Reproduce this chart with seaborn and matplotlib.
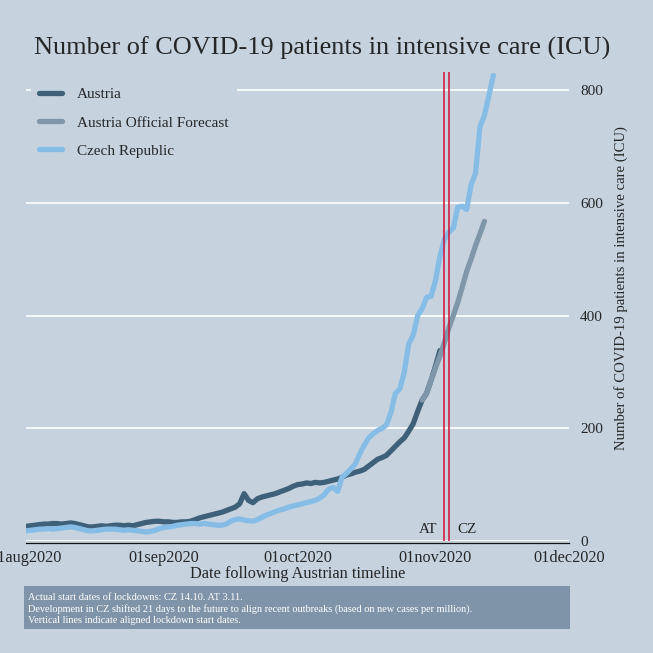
import pandas as pd
import numpy as np
import matplotlib.pyplot as plt
import matplotlib.dates as mdates
from matplotlib.patches import Rectangle
import seaborn as sns

# ICU patients, daily from 1 Aug 2020 (Austrian timeline)
at_icu = [26, 27, 28, 29, 30, 30, 31, 31, 30, 31, 32, 31, 29, 27, 25, 25, 26, 27, 26, 27,
          28, 28, 27, 28, 27, 29, 31, 33, 34, 35, 35, 34, 34, 33, 33, 34, 34, 35, 38, 41,
          43, 45, 47, 49, 51, 54, 57, 60, 66, 84, 72, 68, 75, 78, 80, 82, 84, 87, 90, 93,
          97, 100, 101, 103, 102, 104, 103, 104, 106, 108, 110, 113, 117, 119, 122, 124, 127, 133, 139, 145,
          148, 152, 160, 168, 176, 183, 195, 208, 230, 250, 262, 285, 310, 338]
# official forecast, starts 29 Oct 2020
fc_start = '2020-10-29'
at_forecast = [250, 262, 285, 307, 328, 352, 378, 400, 423, 450, 478, 500, 524, 545, 567]
# Czech Republic, shifted 21 days forward
cz_icu = [18, 19, 20, 21, 21, 22, 21, 22, 23, 24, 25, 24, 22, 20, 18, 18, 19, 20, 21, 21,
          21, 20, 19, 20, 19, 18, 17, 16, 17, 19, 22, 24, 25, 26, 28, 29, 30, 31, 31, 30,
          31, 30, 29, 28, 28, 30, 35, 38, 39, 37, 36, 35, 38, 42, 46, 49, 52, 55, 57, 60,
          62, 64, 66, 68, 70, 72, 76, 82, 92, 95, 88, 113, 120, 128, 137, 155, 170, 183, 190, 196,
          200, 206, 228, 262, 270, 300, 350, 365, 400, 412, 432, 434, 462, 505, 535, 548, 555, 592, 594, 588,
          632, 652, 735, 755, 790, 826]

lockdowns = {'AT': '2020-11-03', 'CZ': '2020-11-04'}
x_ticks = ['2020-08-01', '2020-09-01', '2020-10-01', '2020-11-01', '2020-12-01']
x_ticklabels = ['01aug2020', '01sep2020', '01oct2020', '01nov2020', '01dec2020']
y_ticks = [0, 200, 400, 600, 800]

bg = '#c6d3df'
c_at = '#3e6079'
c_fc = '#8096a9'
c_cz = '#86bde7'

at_df = pd.DataFrame({'date': pd.date_range('2020-08-01', periods=len(at_icu)), 'icu': at_icu})
fc_df = pd.DataFrame({'date': pd.date_range(fc_start, periods=len(at_forecast)), 'icu': at_forecast})
cz_df = pd.DataFrame({'date': pd.date_range('2020-08-01', periods=len(cz_icu)), 'icu': cz_icu})

sns.set_style('white')
plt.rcParams['font.family'] = ['Liberation Serif', 'DejaVu Serif']

fig = plt.figure(figsize=(6.53, 6.53), dpi=100, facecolor=bg)
ax = fig.add_axes([26 / 653, 112 / 653, 543 / 653, 469 / 653], facecolor=bg)

for yv in y_ticks:
    ax.axhline(yv, color='white', lw=1.2, zorder=0)

lw = 3.8
sns.lineplot(data=at_df, x='date', y='icu', color=c_at, lw=lw, label='Austria', ax=ax)
sns.lineplot(data=fc_df, x='date', y='icu', color=c_fc, lw=lw, label='Austria Official Forecast', ax=ax)
sns.lineplot(data=cz_df, x='date', y='icu', color=c_cz, lw=lw, label='Czech Republic', ax=ax)

for d in lockdowns.values():
    ax.axvline(pd.Timestamp(d), color='#d0103a', lw=1.1, zorder=5)
ax.text(pd.Timestamp(lockdowns['AT']) - pd.Timedelta(days=1.6), 8, 'AT', ha='right', va='bottom', fontsize=11)
ax.text(pd.Timestamp(lockdowns['CZ']) + pd.Timedelta(days=1.9), 8, 'CZ', ha='left', va='bottom', fontsize=11)

# spine first: moving it resets the tick objects
for s in ['top', 'left', 'right']:
    ax.spines[s].set_visible(False)
ax.spines['bottom'].set_position(('outward', 1.5))
ax.spines['bottom'].set_color('#111111')
ax.spines['bottom'].set_linewidth(0.9)

ax.set_xlim(pd.Timestamp('2020-08-01'), pd.Timestamp('2020-12-01'))
ax.set_ylim(0, 832)
ax.set_xticks([pd.Timestamp(t) for t in x_ticks])
ax.set_xticklabels(x_ticklabels)
ax.set_yticks(y_ticks)
ax.set_yticklabels([str(v) for v in y_ticks])
ax.yaxis.tick_right()
ax.yaxis.set_label_position('right')
ax.tick_params(axis='y', length=0, pad=8, labelsize=11)
ax.tick_params(axis='x', direction='in', length=4, width=0.8, color='#222222', pad=5, labelsize=11.7)
ax.set_xlabel('Date following Austrian timeline', fontsize=11.7, labelpad=0)
ax.set_ylabel('Number of COVID-19 patients in intensive care (ICU)', fontsize=10.6, labelpad=8)
ax.yaxis.label.set_y(0.54)

leg = ax.legend(loc='upper left', bbox_to_anchor=(0.003, 0.991), frameon=True, facecolor=bg,
                edgecolor=bg, fontsize=11, handlelength=1.5, handletextpad=1.0,
                labelspacing=0.95, borderpad=0.55, borderaxespad=0.2, framealpha=1)
leg.get_frame().set_linewidth(0)

fig.text(322 / 653, 1 - 48 / 653, 'Number of COVID-19 patients in intensive care (ICU)',
         ha='center', va='center', fontsize=18.9)

fig.patches.append(Rectangle((24 / 653, 1 - 629 / 653), 546 / 653, 43 / 653,
                             transform=fig.transFigure, facecolor='#7f94a8', edgecolor='none'))
fig.text(28 / 653, 1 - 609 / 653,
         'Actual start dates of lockdowns: CZ 14.10. AT 3.11.\n'
         'Development in CZ shifted 21 days to the future to align recent outbreaks (based on new cases per million).\n'
         'Vertical lines indicate aligned lockdown start dates.',
         ha='left', va='center', fontsize=7.4, color='white', linespacing=1.3)

fig.savefig('out.png', dpi=100, facecolor=bg)
